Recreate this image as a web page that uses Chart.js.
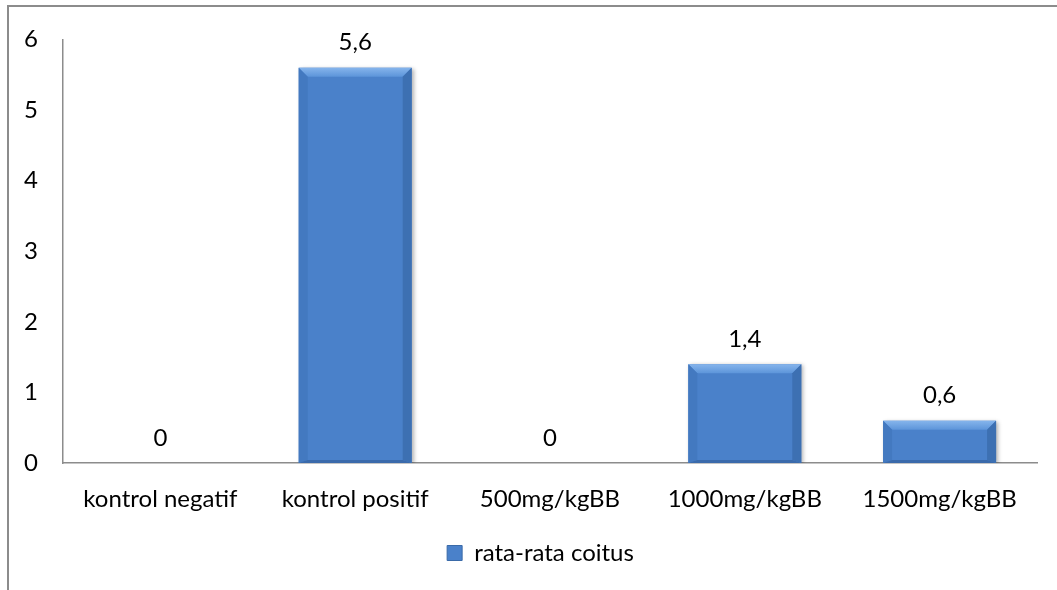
<!DOCTYPE html>
<html>
<head>
<meta charset="utf-8">
<script src="https://cdn.jsdelivr.net/npm/chart.js@4"></script>
<style>
  html, body { margin: 0; padding: 0; background: #fff; overflow: hidden; }
  #wrap { position: relative; width: 1057px; height: 590px; }
  #frame { position: absolute; left: 7px; top: 5px; width: 1200px; height: 800px; border: 2px solid #8c8c8c; }
  canvas { position: absolute; left: 0; top: 0; }
</style>
</head>
<body>
<div id="wrap">
  <div id="frame"></div>
  <canvas id="chart" width="1057" height="590"></canvas>
</div>
<script>
'use strict'
// data
const kategori = ['kontrol negatif', 'kontrol positif', '500mg/kgBB', '1000mg/kgBB', '1500mg/kgBB'];
const nilai = [0, 5.6, 0, 1.4, 0.6];
const namaSeri = 'rata-rata coitus';
const tickY = [0, 1, 2, 3, 4, 5, 6];

const FONT = 'Lato';
const FSIZE = 24;

// legend sits a bit right of the canvas centre in the original
const geserLegend = {
  id: 'geserLegend',
  afterLayout(chart) {
    chart.legend.left += 22;
    chart.legend.right += 22;
  }
};

// shadow under bars, then bevel + value labels on top
const bevelPlugin = {
  id: 'bevel',
  beforeDatasetsDraw(chart) {
    const ctx = chart.ctx;
    ctx.save();
    ctx.shadowColor = 'rgba(0,0,0,0.3)';
    ctx.shadowBlur = 4;
    ctx.shadowOffsetX = 2;
    ctx.shadowOffsetY = 1;
  },
  afterDatasetsDraw(chart) {
    const ctx = chart.ctx;
    ctx.restore();
    const meta = chart.getDatasetMeta(0);
    meta.data.forEach((bar, i) => {
      const v = nilai[i];
      const x0 = bar.x - bar.width / 2, x1 = bar.x + bar.width / 2;
      const y0 = bar.y, y1 = bar.base;
      const h = y1 - y0;
      if (h > 2) {
        const b = Math.min(9, h / 3);
        ctx.save();
        // top bevel
        let g = ctx.createLinearGradient(0, y0, 0, y0 + b);
        g.addColorStop(0, '#86b5ec');
        g.addColorStop(1, '#5d95da');
        ctx.fillStyle = g;
        ctx.beginPath();
        ctx.moveTo(x0, y0); ctx.lineTo(x1, y0); ctx.lineTo(x1 - b, y0 + b); ctx.lineTo(x0 + b, y0 + b);
        ctx.closePath(); ctx.fill();
        // left bevel
        ctx.fillStyle = '#4379c0';
        ctx.beginPath();
        ctx.moveTo(x0, y0); ctx.lineTo(x0 + b, y0 + b); ctx.lineTo(x0 + b, y1 - 3); ctx.lineTo(x0, y1);
        ctx.closePath(); ctx.fill();
        // right bevel
        ctx.fillStyle = '#3d70b2';
        ctx.beginPath();
        ctx.moveTo(x1, y0); ctx.lineTo(x1 - b, y0 + b); ctx.lineTo(x1 - b, y1 - 3); ctx.lineTo(x1, y1);
        ctx.closePath(); ctx.fill();
        // bottom edge
        ctx.fillStyle = '#3a6aab';
        ctx.beginPath();
        ctx.moveTo(x0, y1); ctx.lineTo(x0 + b, y1 - 3); ctx.lineTo(x1 - b, y1 - 3); ctx.lineTo(x1, y1);
        ctx.closePath(); ctx.fill();
        ctx.restore();
      }
      ctx.save();
      ctx.fillStyle = '#000';
      ctx.font = FSIZE + 'px ' + FONT;
      ctx.textAlign = 'center';
      ctx.textBaseline = 'middle';
      ctx.fillText(String(v).replace('.', ','), bar.x, bar.y - 25);
      ctx.restore();
    });
  }
};

const ctx = document.getElementById('chart').getContext('2d');
const grafik = new Chart(ctx, {
  type: 'bar',
  data: {
    labels: kategori,
    datasets: [{
      label: namaSeri,
      data: nilai,
      backgroundColor: '#4a81ca',
      borderWidth: 0,
      barPercentage: 0.58,
      categoryPercentage: 1.0
    }]
  },
  options: {
    responsive: false,
    animation: false,
    layout: { padding: { left: 0, right: 20, top: 35, bottom: 15 } },
    plugins: {
      tooltip: { enabled: false },
      legend: {
        position: 'bottom',
        labels: {
          color: '#000',
          font: { family: FONT, size: FSIZE },
          boxWidth: 15,
          boxHeight: 15,
          padding: 8,
          generateLabels(chart) {
            return [{
              text: namaSeri,
              fillStyle: '#4a81ca',
              strokeStyle: '#3a6aa8',
              lineWidth: 1,
              datasetIndex: 0
            }];
          }
        }
      }
    },
    scales: {
      x: {
        grid: { display: false, drawTicks: false },
        border: { display: true, color: '#8c8c8c', width: 1.5 },
        ticks: { color: '#000', font: { family: FONT, size: FSIZE }, padding: 22, maxRotation: 0 },
        afterFit(scale) { scale.height = 70; }
      },
      y: {
        min: 0,
        max: 6,
        afterBuildTicks(scale) { scale.ticks = tickY.map(v => ({ value: v })); },
        grid: { display: false, drawTicks: false },
        border: { display: true, color: '#8c8c8c', width: 1.5 },
        ticks: { color: '#000', font: { family: FONT, size: FSIZE }, padding: 25 },
        afterFit(scale) { scale.width = 63; }
      }
    }
  },
  plugins: [geserLegend, bevelPlugin]
});
</script>
</body>
</html>
